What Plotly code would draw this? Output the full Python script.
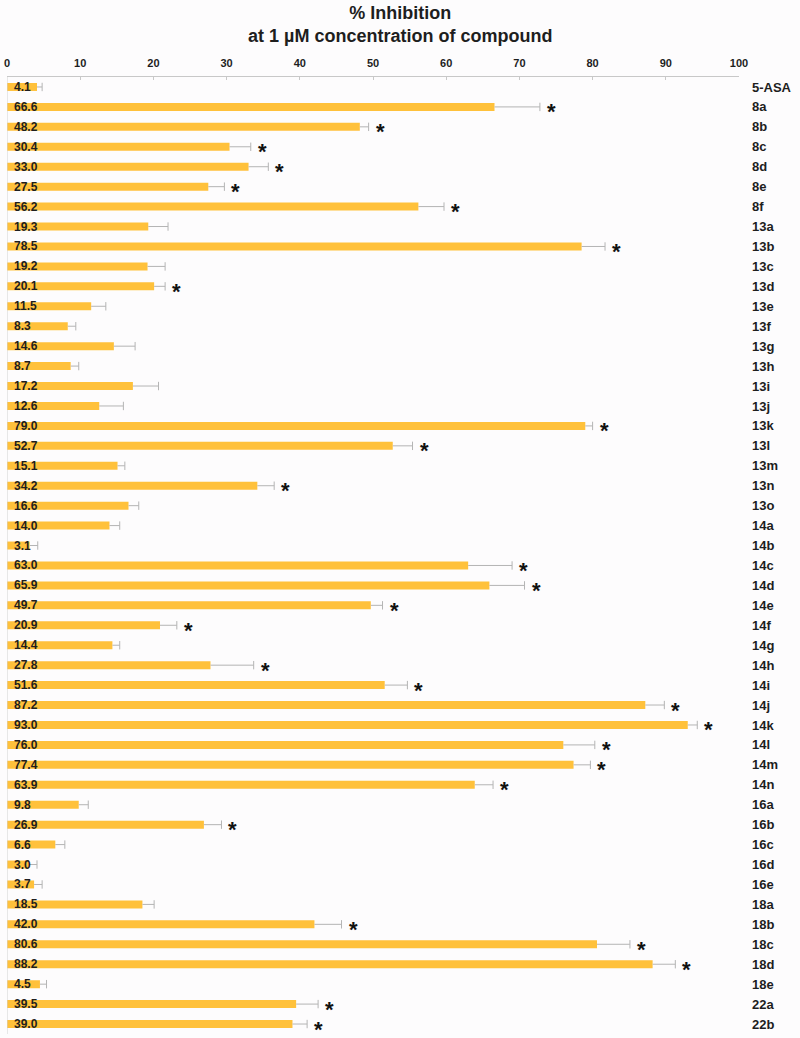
import plotly.graph_objects as go

categories = ["5-ASA", "8a", "8b", "8c", "8d", "8e", "8f",
              "13a", "13b", "13c", "13d", "13e", "13f", "13g", "13h", "13i", "13j", "13k", "13l", "13m", "13n", "13o",
              "14a", "14b", "14c", "14d", "14e", "14f", "14g", "14h", "14i", "14j", "14k", "14l", "14m", "14n",
              "16a", "16b", "16c", "16d", "16e",
              "18a", "18b", "18c", "18d", "18e",
              "22a", "22b"]

inhibition = [4.1, 66.6, 48.2, 30.4, 33.0, 27.5, 56.2,
              19.3, 78.5, 19.2, 20.1, 11.5, 8.3, 14.6, 8.7, 17.2, 12.6, 79.0, 52.7, 15.1, 34.2, 16.6,
              14.0, 3.1, 63.0, 65.9, 49.7, 20.9, 14.4, 27.8, 51.6, 87.2, 93.0, 76.0, 77.4, 63.9,
              9.8, 26.9, 6.6, 3.0, 3.7,
              18.5, 42.0, 80.6, 88.2, 4.5,
              39.5, 39.0]

error = [0.7, 6.2, 1.2, 2.9, 2.7, 2.2, 3.5,
         2.7, 3.2, 2.4, 1.5, 2.0, 1.1, 2.9, 1.1, 3.5, 3.3, 1.0, 2.7, 1.0, 2.3, 1.4,
         1.4, 1.1, 6.0, 4.8, 1.6, 2.3, 1.0, 5.9, 3.1, 2.6, 1.3, 4.3, 2.3, 2.5,
         1.3, 2.4, 1.3, 1.1, 1.1,
         1.6, 3.7, 4.5, 3.1, 0.9,
         3.0, 2.0]

significant = [False, True, True, True, True, True, True,
               False, True, False, True, False, False, False, False, False, False, True, True, False, True, False,
               False, False, True, True, True, True, False, True, True, True, True, True, True, True,
               False, True, False, False, False,
               False, True, True, True, False,
               True, True]

x_ticks = [0, 10, 20, 30, 40, 50, 60, 70, 80, 90, 100]

title_text = "<b>% Inhibition<br>at 1 µM concentration of compound</b>"

BAR_COLOR = "#FFC13B"
ERR_COLOR = "#B4B4B4"
TEXT_COLOR = "#1E1E1E"
FONT = "Liberation Sans, Arial, sans-serif"

fig = go.Figure()

fig.add_trace(go.Bar(
    orientation="h", y=categories, x=inhibition, width=0.4,
    marker=dict(color=BAR_COLOR, line=dict(width=0)),
    showlegend=False, hoverinfo="x+y",
))

# error bars (positive side only)
ex, ey = [], []
for c, v, e in zip(categories, inhibition, error):
    ex += [v, v + e, None]
    ey += [c, c, None]
fig.add_trace(go.Scatter(
    x=ex, y=ey, mode="lines", line=dict(color=ERR_COLOR, width=1),
    showlegend=False, hoverinfo="skip",
))
fig.add_trace(go.Scatter(
    x=[v + e for v, e in zip(inhibition, error)], y=categories, mode="markers",
    marker=dict(symbol="line-ns", size=6, line=dict(color=ERR_COLOR, width=1)),
    showlegend=False, hoverinfo="skip",
))

annotations = [dict(
    x=0.5, y=1, xref="paper", yref="paper", xanchor="center", yanchor="bottom",
    xshift=27, yshift=29, showarrow=False, text=title_text,
    font=dict(family=FONT, size=18, color=TEXT_COLOR),
)]
for c, v, e, s in zip(categories, inhibition, error, significant):
    annotations.append(dict(
        x=0, y=c, xref="x", yref="y", text=f"{v:.1f}", showarrow=False,
        xanchor="left", yanchor="middle", xshift=5,
        font=dict(family=FONT, size=12, color=TEXT_COLOR, weight="bold"),
    ))
    if s:
        annotations.append(dict(
            x=v + e, y=c, xref="x", yref="y", text="*", showarrow=False,
            xanchor="left", yanchor="middle", xshift=5, yshift=-5,
            font=dict(family=FONT, size=22, color="#111111", weight="bold"),
        ))

fig.update_layout(
    width=800, height=1038,
    margin=dict(l=7, r=61, t=77, b=4, pad=0),
    paper_bgcolor="#FDFCFD", plot_bgcolor="#FDFCFD",
    xaxis=dict(
        side="top", range=[0, 100], tickmode="array", tickvals=x_ticks,
        ticktext=[str(t) for t in x_ticks],
        ticks="inside", ticklen=3, tickcolor="#C8C8C8",
        showline=True, linecolor="#C8C8C8", linewidth=1,
        showgrid=False, zeroline=False, automargin=False,
        tickfont=dict(family=FONT, size=11, color=TEXT_COLOR, weight="bold"),
        ticklabelstandoff=5,
    ),
    yaxis=dict(
        type="category", categoryorder="array", categoryarray=categories,
        range=[len(categories) - 0.5, -0.5], side="right",
        showgrid=False, zeroline=False, showline=False, ticks="", automargin=False,
        tickfont=dict(family=FONT, size=13, color=TEXT_COLOR, weight="bold"),
        ticklabelstandoff=12,
    ),
    shapes=[dict(type="line", xref="x", yref="paper", x0=0, x1=0, y0=0, y1=1,
                 line=dict(color="#D2D2D2", width=1))],
    annotations=annotations,
    bargap=0.6,
)

fig.write_html(
    "out.html",
    config={"displayModeBar": False},
    post_script="document.body.style.margin='0';document.body.style.padding='0';"
                "document.body.style.overflow='hidden';",
)
